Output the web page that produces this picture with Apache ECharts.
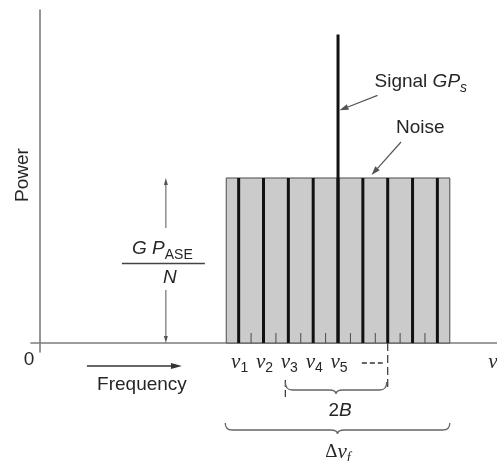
<!DOCTYPE html>
<html>
<head>
<meta charset="utf-8">
<script src="https://cdn.jsdelivr.net/npm/echarts@6/dist/echarts.min.js"></script>
<style>
  html, body { margin: 0; padding: 0; background: #ffffff; }
  #chart { width: 497px; height: 461px; }
</style>
</head>
<body>
<div id="chart"></div>
<script>
// Frequency in channel-spacing units, power normalised to the per-channel ASE level.
const channelFreqs = [8, 9, 10, 11, 12, 13, 14, 15, 16];
const channelLabels = ['1', '2', '3', '4', '5'];
const filterEdges = [8.5, 9.5, 10.5, 11.5, 12.5, 13.5, 14.5, 15.5];
const noiseBand = [7.5, 16.5];
const noisePower = 1.0;
const signalFreq = 12;
const signalPower = 1.87;
const receiverBand = [10, 14];   // 2B window, ν3 to ν7
const xRange = [-0.36, 18.4];
const yRange = [-0.0545, 2.018];

const SANS = '"Liberation Sans", Arial, Helvetica, sans-serif';
const SERIF = '"Liberation Serif", "Times New Roman", serif';
const INK = '#262626';
const LINE = '#555555';

function arrow(x1, y1, x2, y2, color, width, headLen, headW) {
  const dx = x2 - x1, dy = y2 - y1;
  const len = Math.sqrt(dx * dx + dy * dy);
  const ux = dx / len, uy = dy / len;
  const bx = x2 - ux * headLen, by = y2 - uy * headLen;
  const nx = -uy * headW / 2, ny = ux * headW / 2;
  return [
    { type: 'line', shape: { x1: x1, y1: y1, x2: bx, y2: by }, style: { stroke: color, lineWidth: width } },
    { type: 'polygon', shape: { points: [[x2, y2], [bx + nx, by + ny], [bx - nx, by - ny]] }, style: { fill: color } }
  ];
}

function brace(x0, x1, yTop, yMid, yTip) {
  const xc = (x0 + x1) / 2, r = 7;
  const d = 'M' + x0 + ',' + yTop +
    ' Q' + x0 + ',' + yMid + ' ' + (x0 + r) + ',' + yMid +
    ' L' + (xc - r) + ',' + yMid +
    ' Q' + xc + ',' + yMid + ' ' + xc + ',' + yTip +
    ' Q' + xc + ',' + yMid + ' ' + (xc + r) + ',' + yMid +
    ' L' + (x1 - r) + ',' + yMid +
    ' Q' + x1 + ',' + yMid + ' ' + x1 + ',' + yTop;
  return { type: 'path', shape: { pathData: d }, style: { stroke: '#666666', lineWidth: 1.3, fill: null } };
}

function text(x, y, str, rich, extra) {
  return {
    type: 'text', x: x, y: y,
    style: Object.assign({ text: str, fill: INK, align: 'center', verticalAlign: 'middle',
      fontFamily: SANS, fontSize: 19, rich: rich || {} }, extra || {})
  };
}

const nuRich = {
  v: { fontFamily: SERIF, fontStyle: 'italic', fontSize: 21, lineHeight: 26, fill: INK },
  s: { fontFamily: SANS, fontSize: 14, lineHeight: 8, verticalAlign: 'bottom', fill: INK }
};

function renderBand(params, api) {
  const a = api.coord([api.value(0), api.value(2)]);
  const b = api.coord([api.value(1), 0]);
  return {
    type: 'rect', z2: 1,
    shape: { x: a[0], y: a[1], width: b[0] - a[0], height: b[1] - a[1] },
    style: { fill: '#cbcbcb', stroke: '#4a4a4a', lineWidth: 1 }
  };
}

function renderStem(params, api) {
  const top = api.coord([api.value(0), api.value(1)]);
  const base = api.coord([api.value(0), 0]);
  return {
    type: 'line', z2: 5,
    shape: { x1: top[0], y1: top[1], x2: base[0], y2: base[1] },
    style: { stroke: '#111111', lineWidth: 3 }
  };
}

function renderEdge(params, api) {
  const base = api.coord([api.value(0), 0]);
  return {
    type: 'line', z2: 3,
    shape: { x1: base[0], y1: base[1] - 10, x2: base[0], y2: base[1] },
    style: { stroke: '#4a4a4a', lineWidth: 1 }
  };
}

function renderNotes(params, api) {
  const O = api.coord([0, 0]);
  const c = [];

  // origin and axis titles
  c.push(text(O[0] - 11, O[1] + 17, '0'));
  c.push(Object.assign(text(O[0] - 17, O[1] - 168, 'Power'), { rotation: Math.PI / 2 }));
  const right = api.coord([xRange[1], 0]);
  c.push(text(right[0] - 4, O[1] + 19, '{v|ν}', nuRich));
  c.push(...arrow(O[0] + 47, O[1] + 23, O[0] + 142, O[1] + 23, '#333333', 1.3, 11, 6));
  c.push(text(O[0] + 102, O[1] + 42, 'Frequency'));

  // channel labels
  channelLabels.forEach(function (lab, i) {
    const p = api.coord([channelFreqs[i], 0]);
    c.push(text(p[0] + 1, O[1] + 19, '{v|ν}{s|' + lab + '}', nuRich));
  });
  const d6 = api.coord([channelFreqs[5], 0]);
  const rx0 = api.coord([receiverBand[0], 0]);
  const rx1 = api.coord([receiverBand[1], 0]);
  c.push({ type: 'line', shape: { x1: d6[0] - 1, y1: O[1] + 20, x2: rx1[0] - 5, y2: O[1] + 20 },
    style: { stroke: '#333333', lineWidth: 1.4, lineDash: [5, 3] } });

  // 2B receiver window
  c.push({ type: 'line', shape: { x1: rx1[0], y1: O[1], x2: rx1[0], y2: O[1] + 44 },
    style: { stroke: '#333333', lineWidth: 1.2, lineDash: [8, 4] } });
  c.push({ type: 'line', shape: { x1: rx0[0] - 3, y1: O[1] + 37, x2: rx0[0] - 3, y2: O[1] + 55 },
    style: { stroke: '#333333', lineWidth: 1.2, lineDash: [7, 3] } });
  c.push(brace(rx0[0] - 3, rx1[0] - 1, O[1] + 39, O[1] + 47, O[1] + 51));
  c.push(text((rx0[0] + rx1[0]) / 2 + 2, O[1] + 68, '{r|2}{i|B}', {
    r: { fontFamily: SANS, fontSize: 19, fill: INK },
    i: { fontFamily: SANS, fontStyle: 'italic', fontSize: 19, fill: INK }
  }));

  // optical filter bandwidth
  const bl = api.coord([noiseBand[0], 0]);
  const br = api.coord([noiseBand[1], 0]);
  c.push(brace(bl[0] - 1, br[0], O[1] + 80, O[1] + 87, O[1] + 91));
  c.push(text((bl[0] + br[0]) / 2, O[1] + 109, '{d|Δ}{v|ν}{s|f}', {
    d: { fontFamily: SERIF, fontSize: 19, lineHeight: 26, fill: INK },
    v: { fontFamily: SERIF, fontStyle: 'italic', fontSize: 21, lineHeight: 26, fill: INK },
    s: { fontFamily: SERIF, fontStyle: 'italic', fontSize: 14, lineHeight: 8, verticalAlign: 'bottom', fill: INK }
  }));

  // per-channel ASE level
  const aseX = api.coord([5.07, 0])[0];
  const lvTop = api.coord([0, noisePower])[1];
  const mid = (lvTop + O[1]) / 2;
  c.push(...arrow(aseX, lvTop + 50, aseX, lvTop, LINE, 1, 7, 4));
  c.push(...arrow(aseX, O[1] - 53, aseX, O[1], LINE, 1, 7, 4));
  c.push({ type: 'line', shape: { x1: aseX - 44, y1: mid + 3, x2: aseX + 39, y2: mid + 3 },
    style: { stroke: '#444444', lineWidth: 1.4 } });
  c.push(text(aseX - 3.5, mid - 12, '{i|G P}{s|ASE}', {
    i: { fontFamily: SANS, fontStyle: 'italic', fontSize: 19, lineHeight: 28, fill: INK },
    s: { fontFamily: SANS, fontSize: 14, lineHeight: 8, verticalAlign: 'bottom', fill: INK }
  }));
  c.push(text(aseX + 4, mid + 17.5, '{i|N}', {
    i: { fontFamily: SANS, fontStyle: 'italic', fontSize: 19, fill: INK }
  }));

  // signal and noise call-outs
  const s = api.coord([signalFreq, 1.41]);
  c.push(...arrow(s[0] + 39.5, s[1] - 15, s[0] + 1.5, s[1], LINE, 1.2, 9, 6));
  c.push(text(s[0] + 36.5, s[1] - 29, '{r|Signal }{i|GP}{s|s}', {
    r: { fontFamily: SANS, fontSize: 19, lineHeight: 28, fill: INK },
    i: { fontFamily: SANS, fontStyle: 'italic', fontSize: 19, lineHeight: 28, fill: INK },
    s: { fontFamily: SANS, fontStyle: 'italic', fontSize: 14, lineHeight: 8, verticalAlign: 'bottom', fill: INK }
  }, { align: 'left' }));
  const n = api.coord([signalFreq, noisePower]);
  c.push(...arrow(n[0] + 63, n[1] - 36, n[0] + 33.5, n[1] - 3, LINE, 1.2, 9, 6));
  c.push(text(n[0] + 58, n[1] - 50, 'Noise', null, { align: 'left' }));

  return { type: 'group', children: c };
}

const chart = echarts.init(document.getElementById('chart'), null, { renderer: 'canvas' });
const axisCommon = {
  type: 'value',
  axisLine: { show: true, onZero: true, lineStyle: { color: '#7c7c7c', width: 1.6 } },
  axisTick: { show: false },
  axisLabel: { show: false },
  splitLine: { show: false }
};
chart.setOption({
  animation: false,
  backgroundColor: '#ffffff',
  grid: { left: 31, right: 0, top: 10, bottom: 109, containLabel: false, outerBoundsMode: 'none' },
  xAxis: Object.assign({ min: xRange[0], max: xRange[1] }, axisCommon),
  yAxis: Object.assign({ min: yRange[0], max: yRange[1] }, axisCommon),
  series: [
    { type: 'custom', name: 'noise', clip: false, z: 2, renderItem: renderBand,
      data: [[noiseBand[0], noiseBand[1], noisePower]] },
    { type: 'custom', name: 'filter edges', clip: false, z: 3, renderItem: renderEdge,
      data: filterEdges.map(function (f) { return [f, 0]; }) },
    { type: 'custom', name: 'channels', clip: false, z: 4, renderItem: renderStem,
      data: channelFreqs.map(function (f) { return [f, noisePower]; }) },
    { type: 'custom', name: 'signal', clip: false, z: 5, renderItem: renderStem,
      data: [[signalFreq, signalPower]] },
    { type: 'custom', name: 'notes', clip: false, z: 6, renderItem: renderNotes,
      data: [[0, 0]] }
  ]
});
</script>
</body>
</html>
